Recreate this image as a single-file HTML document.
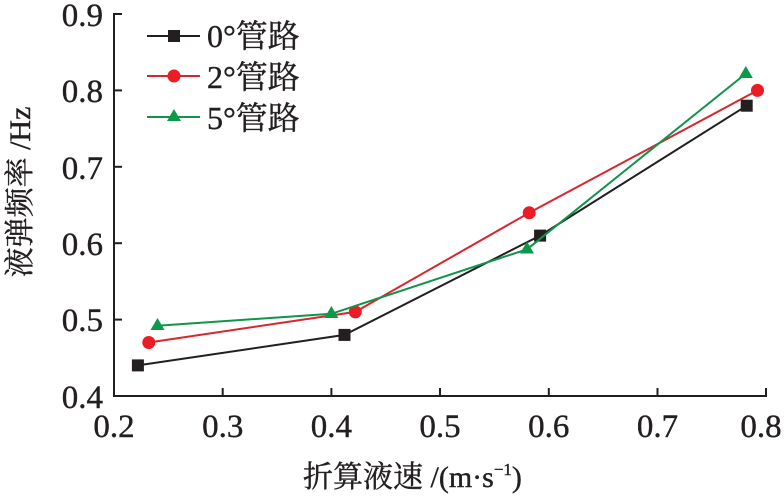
<!DOCTYPE html>
<html><head><meta charset="utf-8"><style>
html,body{margin:0;padding:0;background:#fff;}
svg{display:block;}
text{font-family:"Liberation Serif","Times New Roman",Times,serif;fill:#231f20;stroke:#231f20;stroke-width:0.4;}
.cjk{font-family:"Noto Serif CJK SC","Noto Sans CJK SC",serif;}
</style></head><body>
<svg width="784" height="496" viewBox="0 0 784 496" xmlns="http://www.w3.org/2000/svg">
<g stroke="#231f20" stroke-width="2" fill="none">
<line x1="114" y1="13" x2="114" y2="397"/>
<line x1="113" y1="396" x2="767" y2="396"/>
<line x1="114" y1="14" x2="122" y2="14"/>
<line x1="114" y1="90.4" x2="122" y2="90.4"/>
<line x1="114" y1="166.8" x2="122" y2="166.8"/>
<line x1="114" y1="243.2" x2="122" y2="243.2"/>
<line x1="114" y1="319.6" x2="122" y2="319.6"/>
<line x1="222.7" y1="396" x2="222.7" y2="388"/>
<line x1="331.4" y1="396" x2="331.4" y2="388"/>
<line x1="440" y1="396" x2="440" y2="388"/>
<line x1="548.8" y1="396" x2="548.8" y2="388"/>
<line x1="657.5" y1="396" x2="657.5" y2="388"/>
<line x1="766" y1="396" x2="766" y2="388"/>
</g>
<g font-size="33" text-anchor="end">
<text x="103" y="26">0.9</text>
<text x="103" y="102">0.8</text>
<text x="103" y="179">0.7</text>
<text x="103" y="255">0.6</text>
<text x="103" y="331">0.5</text>
<text x="103" y="408">0.4</text>
</g>
<g font-size="33" text-anchor="middle">
<text x="114" y="437">0.2</text>
<text x="222.7" y="437">0.3</text>
<text x="331.4" y="437">0.4</text>
<text x="440" y="437">0.5</text>
<text x="548.8" y="437">0.6</text>
<text x="657.5" y="437">0.7</text>
<text x="761" y="437">0.8</text>
</g>
<text x="303" y="487" font-size="30"><tspan class="cjk">折算液速</tspan> /(m·s<tspan font-size="17" dy="-12">−1</tspan><tspan dy="12">)</tspan></text>
<text transform="translate(30,192) rotate(-90)" font-size="30" text-anchor="middle"><tspan class="cjk">液弹频率</tspan> /Hz</text>
<polyline fill="none" stroke="#231f20" stroke-width="2" points="137.9,365.4 344.5,334.9 540.1,235.6 746.7,105.7"/>
<g fill="#231f20">
<rect x="131.9" y="359.4" width="12" height="12"/>
<rect x="338.5" y="328.9" width="12" height="12"/>
<rect x="534.1" y="229.6" width="12" height="12"/>
<rect x="740.7" y="99.7" width="12" height="12"/>
</g>
<polyline fill="none" stroke="#d7262e" stroke-width="2" points="148.8,342.5 355.3,311.9 529.2,212.8 757.5,90.4"/>
<g fill="#ec1c24">
<circle cx="148.8" cy="342.5" r="6.5"/>
<circle cx="355.3" cy="311.9" r="6.5"/>
<circle cx="529.2" cy="212.8" r="6.5"/>
<circle cx="757.5" cy="90.4" r="6.5"/>
</g>
<polyline fill="none" stroke="#10934a" stroke-width="2" points="157.5,325.7 331.4,313.8 527,249.3 745.8,73.6"/>
<g fill="#0a9a48">
<polygon points="157.5,318 150.5,330 164.5,330"/>
<polygon points="331.4,306 324.4,318 338.4,318"/>
<polygon points="527,241.5 520,253.5 534,253.5"/>
<polygon points="745.8,66 738.8,78 752.8,78"/>
</g>
<line x1="147" y1="36" x2="200" y2="36" stroke="#231f20" stroke-width="2"/>
<rect x="168" y="30" width="12" height="12" fill="#231f20"/>
<line x1="147" y1="76" x2="200" y2="76" stroke="#d7262e" stroke-width="2"/>
<circle cx="174" cy="76" r="6.5" fill="#ec1c24"/>
<line x1="147" y1="117" x2="200" y2="117" stroke="#10934a" stroke-width="2"/>
<polygon points="174,109 167,121 181,121" fill="#0a9a48"/>
<g font-size="32">
<text x="207" y="47">0°<tspan class="cjk">管路</tspan></text>
<text x="207" y="88">2°<tspan class="cjk">管路</tspan></text>
<text x="207" y="129">5°<tspan class="cjk">管路</tspan></text>
</g>
</svg>
</body></html>
